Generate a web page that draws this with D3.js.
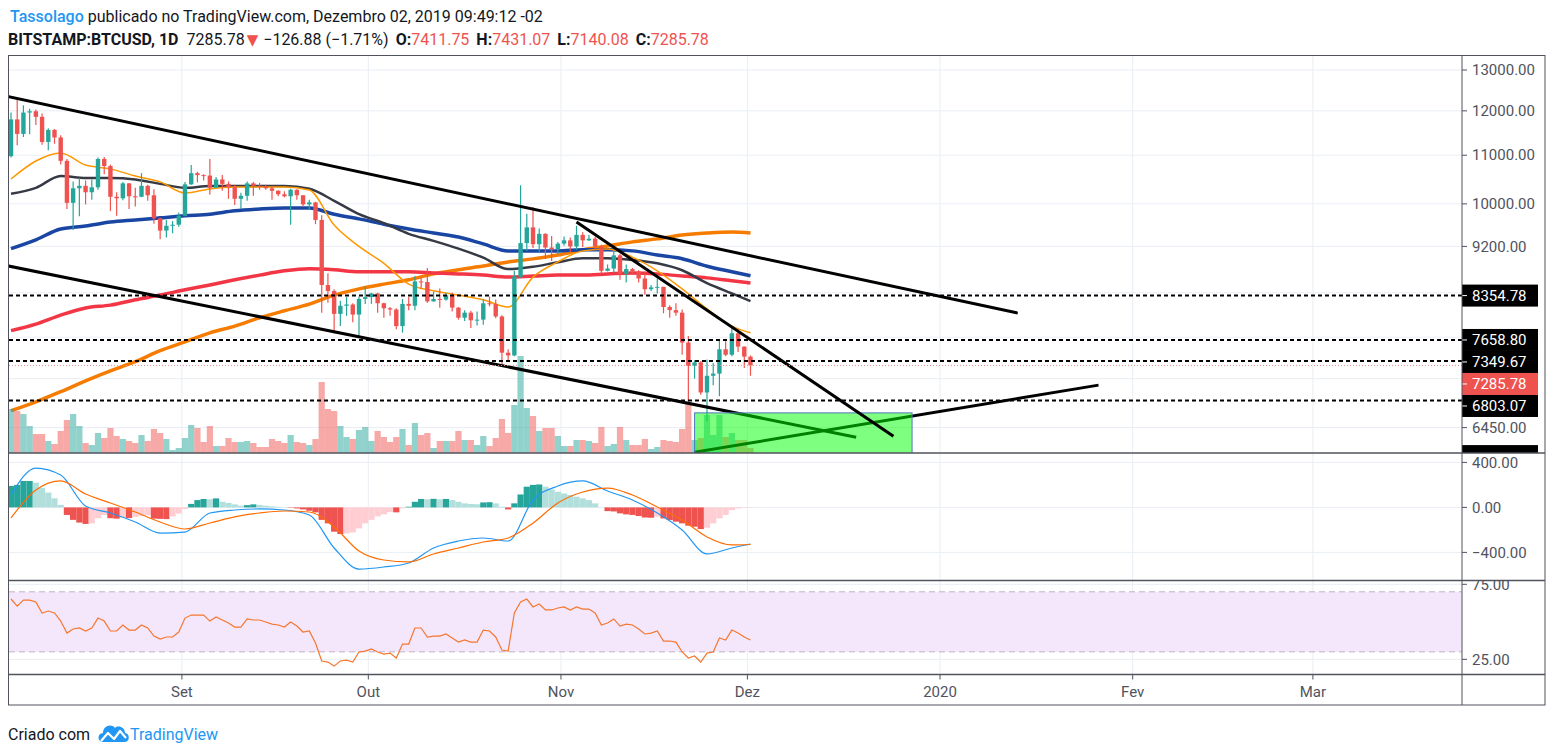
<!DOCTYPE html>
<html>
<head>
<meta charset="utf-8">
<script src="https://cdn.jsdelivr.net/npm/d3@7"></script>
<style>
  body { margin: 0; background: #ffffff; font-family: Roboto, "DejaVu Sans", sans-serif; }
  svg { display: block; }
</style>
</head>
<body>
<svg id="chart" width="1553" height="755"></svg>
<script>

// ---------------- data (BITSTAMP:BTCUSD daily) ----------------

const firstBar = "2019-08-05"

const open = [10980,11800,11470,11960,11990,11860,11290,11560,11390,10880,
  10020,10310,10360,10230,10330,10920,10770,10140,10110,10410,
  10150,10140,10360,10170,9720,9490,9580,9600,9770,10390,
  10620,10580,10570,10320,10490,10400,10330,10100,10160,10410,
  10360,10350,10310,10260,10190,10150,10280,10170,9990,10030,
  9690,8530,8430,8060,8190,8210,8050,8300,8330,8390,
  8230,8150,8130,7870,8220,8190,8590,8580,8260,8300,
  8290,8360,8160,8000,8080,7960,7970,8230,8220,8020,
  7470,7430,8670,9260,9550,9240,9430,9180,9150,9250,
  9310,9200,9410,9310,9340,9200,8770,8810,9040,8720,
  8800,8760,8640,8460,8490,8500,8170,8120,8080,7620,
  7280,7330,6910,7140,7170,7520,7440,7760,7560,7411.75]

const high = [11960,12320,12130,12050,12030,11940,11600,11580,11440,10920,
  10450,10520,10470,10490,10950,10960,10800,10230,10440,10420,
  10320,10620,10380,10290,9730,9690,9670,9830,10440,10790,
  10650,10600,10920,10540,10580,10450,10380,10220,10450,10440,
  10420,10380,10360,10270,10250,10300,10290,10170,10080,10040,
  9780,8730,8460,8270,8330,8230,8340,8510,8400,8400,
  8240,8170,8150,8300,8330,8680,8650,8820,8420,8470,
  8400,8400,8170,8120,8110,8100,8300,8340,8290,8040,
  7520,8770,10370,9810,9940,9530,9440,9390,9280,9380,
  9360,9580,9460,9410,9370,9230,8880,9120,9070,8880,
  8820,8780,8760,8530,8640,8500,8200,8230,8130,7720,
  7360,7350,7370,7320,7660,7640,7870,7820,7560,7431.07]

const low = [10950,11220,11400,11460,11670,11230,11110,11250,10800,9900,
  9500,9760,9990,10080,10280,10600,9860,9770,10070,9900,
  9950,10130,10060,9620,9330,9360,9440,9560,9760,10380,
  10430,10470,10180,10320,10260,10100,9980,9900,10060,10160,
  10280,10280,10080,10150,10130,9600,10080,9950,9880,9610,
  8080,8240,7760,7870,8030,7930,7720,8220,8220,8080,
  8000,8030,7820,7770,8120,8120,8470,8240,8260,8160,
  8270,8100,7970,7950,7840,7880,7890,8180,7990,7300,
  7360,7420,8650,9120,9170,9100,8980,8940,9060,9210,
  9100,9140,9190,9300,9140,8720,8760,8740,8620,8570,
  8700,8570,8370,8430,8390,8070,8000,8030,7440,6790,
  7100,6880,6530,7010,6860,7420,7420,7480,7250,7140.08]

const close = [11800,11470,11960,11990,11860,11290,11560,11390,10880,10020,
  10310,10360,10230,10330,10920,10770,10140,10110,10410,10150,
  10140,10360,10170,9720,9490,9580,9600,9770,10390,10620,
  10580,10570,10320,10490,10400,10330,10100,10160,10410,10360,
  10350,10310,10260,10190,10150,10280,10170,9990,10030,9690,
  8530,8430,8060,8190,8210,8050,8300,8330,8390,8230,
  8150,8130,7870,8220,8190,8590,8580,8260,8300,8290,
  8360,8160,8000,8080,7960,7970,8230,8220,8020,7470,
  7430,8670,9260,9550,9240,9430,9180,9150,9250,9310,
  9200,9410,9310,9340,9200,8770,8810,9040,8720,8800,
  8760,8640,8460,8490,8500,8170,8120,8080,7620,7280,
  7330,6910,7140,7170,7520,7440,7760,7560,7412.66,7285.78]

// volume in BTC
const volume = [17600,16800,15600,10800,7600,7600,4800,3600,8800,13200,
  15600,10800,4000,3200,8000,6000,10000,6800,5600,4800,
  4000,7200,4800,9600,8000,5600,1200,2000,6000,11200,
  10000,4400,10800,2800,2800,6000,4400,4400,4800,4000,
  2400,2400,5600,4800,4000,7200,4400,4000,3200,5600,
  28400,17600,16800,10800,6400,5600,9200,10400,4800,8800,
  6400,4400,6400,9600,3200,12000,7200,8000,2000,4800,
  4800,4800,8800,5200,5200,3200,6800,2800,6000,13600,
  8000,19200,38800,18000,14800,8800,10000,10000,6800,2800,
  2800,5200,5200,4800,4000,10400,2800,3600,10400,5200,
  3200,3200,5600,1600,2400,5200,4800,4400,9600,20000,
  5200,6000,15200,7200,15200,6400,8000,5200,5200,2000]

// moving averages, sampled every 4 bars
const maBars   = [0,4,8,12,16,20,24,28,32,36,40,44,48,52,56,60,64,68,72,76,80,84,88,92,96,100,104,108,112,116,119]
const maFast   = [10500,10877,11050,10790,10710,10560,10440,10215,10297,10335,10335,10335,10277,9593,9200,8900,8545,8433,8363,8286,8170,8663,8925,9120,9155,9010,8770,8465,8140,7870,7767]
const maBlack  = [10200,10320,10560,10520,10520,10490,10400,10320,10356,10356,10356,10356,10300,10060,9800,9630,9430,9300,9160,9000,8800,8840,8920,8990,8990,8960,8900,8780,8560,8390,8265]
const maBlue   = [9160,9320,9520,9575,9650,9690,9730,9770,9800,9865,9900,9920,9920,9800,9710,9610,9520,9445,9370,9245,9120,9120,9120,9140,9140,9120,9045,8980,8850,8755,8685]
const maRed    = [7800,7900,8040,8155,8200,8286,8363,8450,8530,8617,8697,8770,8805,8788,8753,8753,8753,8735,8718,8697,8663,8680,8697,8697,8718,8735,8718,8680,8650,8600,8563]
const maOrange = [6667,6785,6920,7070,7210,7340,7500,7630,7767,7870,8000,8110,8215,8363,8465,8545,8617,8718,8788,8852,8925,8978,9045,9138,9206,9282,9337,9407,9445,9465,9445]

// MACD (same sample bars) and histogram (every bar)
const macdLine   = [110,350,288,12,-50,-130,-228,-219,-50,-23,-14,-23,-68,-361,-548,-530,-494,-361,-299,-272,-299,66,190,235,146,66,-50,-201,-414,-361,-325]
const signalLine = [-94,155,235,119,39,-41,-130,-192,-139,-85,-50,-32,-41,-174,-388,-468,-485,-414,-361,-308,-272,-140,40,137,172,110,4,-112,-263,-334,-330]
const histogram = [191,200,235,235,220,173,132,81,22,-67,
  -111,-135,-147,-142,-96,-67,-96,-100,-90,-95,
  -85,-75,-70,-100,-102,-104,-80,-55,-15,31,
  65,75,72,80,50,40,27,15,20,27,
  22,15,9,5,2,-3,-9,-18,-30,-44,
  -111,-142,-216,-237,-231,-222,-187,-142,-111,-80,
  -62,-40,-44,-9,6,50,75,72,76,72,
  75,65,50,36,30,28,44,46,36,6,
  -18,36,115,184,200,204,184,160,139,124,
  110,95,80,65,36,1,-33,-36,-53,-62,
  -67,-77,-90,-92,-83,-98,-112,-127,-142,-163,
  -172,-193,-181,-142,-98,-68,-24,-9,-4,-3]

// RSI 14
const rsi = [65.2,60.5,64.5,64.5,63.2,55.9,57.2,55.9,50.5,42.5,
  45.2,45.9,43.9,45.9,52.5,50.5,43.9,43.9,47.9,44.5,
  44.5,47.9,45.9,40.5,38.5,39.9,39.9,43.2,52.5,54.5,
  54.5,54.5,50.5,53.2,51.2,49.2,46.5,46.5,51.9,51.2,
  51.2,49.9,48.5,47.9,46.5,49.9,47.2,43.2,43.9,35.9,
  23.9,23.2,20.5,23.9,24.5,23.2,29.9,30.5,31.9,29.9,
  28.5,29.2,25.9,35.2,35.2,45.9,45.9,39.9,40.5,40.5,
  41.9,39.2,36.5,37.9,36.5,36.5,44.5,43.9,39.9,31.2,
  30.5,55.9,63.2,65.2,59.9,61.9,57.9,57.9,59.2,59.9,
  57.9,59.9,58.5,58.5,55.9,47.9,49.2,51.9,47.2,48.5,
  47.9,45.2,41.9,42.5,43.9,37.2,37.2,36.5,29.9,25.9,
  27.2,23.2,29.2,29.9,39.2,37.9,44.5,42.5,39.9,37.9]

// horizontal levels drawn on the chart
const hLevels = [8354.78, 7658.80, 7349.67, 6803.07]

// trend lines [date, price]
const channelTop    = [["2019-08-04", 12360], ["2020-01-14", 8073]]
const channelBottom = [["2019-08-04", 8866], ["2019-12-19", 6330]]
const steepLine     = [["2019-11-04", 9649], ["2019-12-25", 6343]]
const risingLine    = [["2019-11-23", 6147], ["2020-01-27", 7010]]

// green zone
const zoneStart = "2019-11-23", zoneEnd = "2019-12-28"
const zoneHigh = 6639, zoneLow = 6100

// axes
const priceTicks = [13000, 12000, 11000, 10000, 9200, 8400, 7700, 7100, 6450]
const macdTicks = [400, 0, -400]
const rsiTicks = [75, 25]
const monthTicks = ["2019-09-01","2019-10-01","2019-11-01","2019-12-01","2020-01-01","2020-02-01","2020-03-01"]
const monthLabels = ["Set","Out","Nov","Dez","2020","Fev","Mar"]

// ---------------- layout ----------------

const left = 9, right = 1462, axisRight = 1545
const priceTop = 55, priceBottom = 453, macdBottom = 580.5, rsiBottom = 674.5, timeBottom = 705

const textColor = "#131722", axisText = "#50535e", gridColor = "#e9eef4", frameColor = "#50535e"
const upColor = "#26a69a", downColor = "#ef5350"

const parse = d3.utcParse("%Y-%m-%d")
const dates = close.map((c, i) => d3.utcDay.offset(parse(firstBar), i))
const n = close.length

const x = d3.scaleUtc()
  .domain([dates[0], dates[n - 1]])
  .range([11, 750.5])
const barW = x(dates[1]) - x(dates[0])

const y = d3.scaleLog().domain([6137, 13388]).range([priceBottom, priceTop])
const yVol = d3.scaleLinear().domain([0, 40000]).range([priceBottom, priceBottom - 100])
const yMacd = d3.scaleLinear().domain([-650, 481]).range([macdBottom, priceBottom + 0.3])
const yRsi = d3.scaleLinear().domain([14.9, 77.2]).range([rsiBottom, macdBottom + 0.5])

console.log("bar width", barW)

const svg = d3.select("#chart")
const fmt = d3.format(".2f")

const defs = svg.append("defs")
function addClip(id, x0, y0, w, h) {
  defs.append("clipPath").attr("id", id)
    .append("rect").attr("x", x0).attr("y", y0).attr("width", w).attr("height", h)
}
addClip("clipPrice", left, priceTop, right - left, priceBottom - priceTop)
addClip("clipMacd", left, priceBottom, right - left, macdBottom - priceBottom)
addClip("clipRsi", left, macdBottom, right - left, rsiBottom - macdBottom)
addClip("clipPriceAxis", right, priceTop, axisRight - right, priceBottom - priceTop)
addClip("clipRsiAxis", right, macdBottom, axisRight - right, rsiBottom - macdBottom)

// ---------------- header ----------------

const head1 = svg.append("text")
  .attr("x", 10).attr("y", 22)
  .attr("font-size", 16).attr("fill", textColor)
head1.append("tspan").attr("fill", "#2196f3").attr("font-weight", 500).text("Tassolago")
head1.append("tspan").text(" publicado no TradingView.com, Dezembro 02, 2019 09:49:12 -02")

const last = n - 1
const change = close[last] - close[last - 1]
const head2 = [
  { t: "BITSTAMP:BTCUSD, 1D", bold: true, c: textColor, dx: 0 },
  { t: fmt(close[last]), c: textColor, dx: 8 },
  { t: "\u25BC", c: downColor, small: true, dx: 2 },
  { t: fmt(change) + " (" + fmt(change / close[last - 1] * 100) + "%)", c: textColor, dx: 5 },
  { t: "O:", bold: true, c: textColor, dx: 7 },
  { t: fmt(open[last]), c: downColor, dx: 0 },
  { t: "H:", bold: true, c: textColor, dx: 7 },
  { t: fmt(high[last]), c: downColor, dx: 0 },
  { t: "L:", bold: true, c: textColor, dx: 7 },
  { t: fmt(low[last]), c: downColor, dx: 0 },
  { t: "C:", bold: true, c: textColor, dx: 7 },
  { t: fmt(close[last]), c: downColor, dx: 0 }
]
svg.append("text")
  .attr("x", 8).attr("y", 45)
  .attr("font-size", 16)
  .selectAll("tspan").data(head2).enter().append("tspan")
  .attr("dx", d => d.dx)
  .attr("font-weight", d => d.bold ? 700 : 400)
  .attr("font-size", d => d.small ? 15 : 16)
  .attr("fill", d => d.c)
  .text(d => d.t)

// ---------------- grid ----------------

const grid = svg.append("g")
grid.selectAll(".vg").data(monthTicks).enter().append("line")
  .attr("x1", d => x(parse(d)) + barW / 2).attr("x2", d => x(parse(d)) + barW / 2)
  .attr("y1", priceTop).attr("y2", rsiBottom)
  .attr("stroke", gridColor).attr("stroke-width", 1)
grid.selectAll(".pg").data(priceTicks).enter().append("line")
  .attr("x1", left).attr("x2", right)
  .attr("y1", d => y(d)).attr("y2", d => y(d))
  .attr("stroke", gridColor)
grid.selectAll(".mg").data(macdTicks).enter().append("line")
  .attr("x1", left).attr("x2", right)
  .attr("y1", d => yMacd(d)).attr("y2", d => yMacd(d))
  .attr("stroke", gridColor)
grid.selectAll(".rg").data(rsiTicks).enter().append("line")
  .attr("x1", left).attr("x2", right)
  .attr("y1", d => yRsi(d)).attr("y2", d => yRsi(d))
  .attr("stroke", gridColor)

// ---------------- price pane ----------------

const price = svg.append("g").attr("clip-path", "url(#clipPrice)")

const maLine = d3.line()
  .x((d, i) => x(dates[maBars[i]]))
  .y(d => y(d))
  .curve(d3.curveMonotoneX)

const maSeries = [
  { v: maOrange, c: "#f57c00", w: 3.5 },
  { v: maRed, c: "#f23645", w: 3.5 },
  { v: maBlue, c: "#1a46a3", w: 3.5 },
  { v: maBlack, c: "#363a45", w: 2.5 },
  { v: maFast, c: "#ff9800", w: 1.5 }
]
maSeries.forEach(function (m) {
  price.append("path")
    .datum(m.v)
    .attr("d", maLine)
    .attr("fill", "none")
    .attr("stroke", m.c)
    .attr("stroke-width", m.w)
    .attr("stroke-linejoin", "round")
})

// volume
price.append("g").selectAll("rect").data(volume).enter().append("rect")
  .attr("x", (d, i) => x(dates[i]) - barW / 2)
  .attr("width", barW)
  .attr("y", d => yVol(d))
  .attr("height", d => priceBottom - yVol(d))
  .attr("fill", (d, i) => close[i] >= open[i] ? "rgba(38,166,154,0.5)" : "rgba(239,83,80,0.5)")

// candles
const candles = price.append("g").selectAll("g").data(close).enter().append("g")
candles.append("line")
  .attr("x1", (d, i) => x(dates[i])).attr("x2", (d, i) => x(dates[i]))
  .attr("y1", (d, i) => y(high[i])).attr("y2", (d, i) => y(low[i]))
  .attr("stroke", (d, i) => close[i] >= open[i] ? upColor : downColor)
  .attr("stroke-width", 1.2)
candles.append("rect")
  .attr("x", (d, i) => x(dates[i]) - 2.2)
  .attr("width", 4.4)
  .attr("y", (d, i) => y(Math.max(open[i], close[i])))
  .attr("height", (d, i) => Math.max(1, y(Math.min(open[i], close[i])) - y(Math.max(open[i], close[i]))))
  .attr("fill", (d, i) => close[i] >= open[i] ? upColor : downColor)

function trend(pts) {
  return d3.line().x(p => x(parse(p[0]))).y(p => y(p[1]))(pts)
}

// lines under the green zone
;[channelBottom, risingLine].forEach(function (t) {
  price.append("path").attr("d", trend(t))
    .attr("fill", "none").attr("stroke", "#000").attr("stroke-width", 3)
})

price.append("rect")
  .attr("x", x(parse(zoneStart)))
  .attr("width", x(parse(zoneEnd)) - x(parse(zoneStart)))
  .attr("y", y(zoneHigh))
  .attr("height", y(zoneLow) - y(zoneHigh))
  .attr("fill", "rgba(0,255,0,0.5)")
  .attr("stroke", "#4f78bd").attr("stroke-width", 1)

;[channelTop, steepLine].forEach(function (t) {
  price.append("path").attr("d", trend(t))
    .attr("fill", "none").attr("stroke", "#000").attr("stroke-width", 3)
})

// horizontal levels
price.selectAll(".lvl").data(hLevels).enter().append("line")
  .attr("x1", left).attr("x2", right)
  .attr("y1", d => y(d)).attr("y2", d => y(d))
  .attr("stroke", "#000").attr("stroke-width", 2)
  .attr("stroke-dasharray", "4 3")

// last price line
price.append("line")
  .attr("x1", left).attr("x2", right)
  .attr("y1", y(close[last])).attr("y2", y(close[last]))
  .attr("stroke", "#f28b89").attr("stroke-width", 1)
  .attr("stroke-dasharray", "1 2")

// ---------------- MACD pane ----------------

const macdG = svg.append("g").attr("clip-path", "url(#clipMacd)")

function histColor(i) {
  var v = histogram[i]
  var p = i > 0 ? histogram[i - 1] : v
  if (v >= 0) return v >= p ? "#26a69a" : "#b2dfdb"
  return v < p ? "#ef5350" : "#ffcdd2"
}

macdG.append("g").selectAll("rect").data(histogram).enter().append("rect")
  .attr("x", (d, i) => x(dates[i]) - barW / 2)
  .attr("width", barW)
  .attr("y", d => Math.min(yMacd(d), yMacd(0)))
  .attr("height", d => Math.abs(yMacd(d) - yMacd(0)))
  .attr("fill", (d, i) => histColor(i))

const macdPath = d3.line()
  .x((d, i) => x(dates[maBars[i]]))
  .y(d => yMacd(d))
  .curve(d3.curveMonotoneX)

macdG.append("path").datum(macdLine).attr("d", macdPath)
  .attr("fill", "none").attr("stroke", "#2196f3").attr("stroke-width", 1.2)
macdG.append("path").datum(signalLine).attr("d", macdPath)
  .attr("fill", "none").attr("stroke", "#ff6d00").attr("stroke-width", 1.2)

// ---------------- RSI pane ----------------

const rsiG = svg.append("g").attr("clip-path", "url(#clipRsi)")

rsiG.append("rect")
  .attr("x", left).attr("width", right - left)
  .attr("y", yRsi(70)).attr("height", yRsi(30) - yRsi(70))
  .attr("fill", "#f4e7fb")
rsiG.selectAll(".band").data([70, 30]).enter().append("line")
  .attr("x1", left).attr("x2", right)
  .attr("y1", d => yRsi(d)).attr("y2", d => yRsi(d))
  .attr("stroke", "#c2afc6").attr("stroke-width", 1)
  .attr("stroke-dasharray", "6 4")

rsiG.append("path").datum(rsi)
  .attr("d", d3.line().x((d, i) => x(dates[i])).y(d => yRsi(d)))
  .attr("fill", "none").attr("stroke", "#f5772f").attr("stroke-width", 1.2)

// ---------------- right axis ----------------

// labels for drawn levels, pushed apart so they do not overlap
var boxes = hLevels.map(v => ({ v: v, bg: "#000", label: true }))
boxes.push({ v: close[last], bg: "#ef5350", label: true })
boxes.push({ v: zoneLow, bg: "#000", label: false })   // only its top edge shows above the pane border
boxes.forEach(b => { b.y = y(b.v) })
boxes.sort((a, b) => a.y - b.y)
for (let i = 1; i < boxes.length; i++) {
  if (boxes[i].y < boxes[i - 1].y + 22) boxes[i].y = boxes[i - 1].y + 22
}

const axisG = svg.append("g").attr("clip-path", "url(#clipPriceAxis)")

var shownTicks = priceTicks.filter(t => boxes.every(b => Math.abs(b.y - y(t)) > 17))
axisG.selectAll(".pt").data(priceTicks).enter().append("line")
  .attr("x1", right).attr("x2", right + 5)
  .attr("y1", d => y(d)).attr("y2", d => y(d))
  .attr("stroke", axisText)
axisG.selectAll(".pl").data(shownTicks).enter().append("text")
  .attr("x", right + 10).attr("y", d => y(d))
  .attr("dy", "0.35em")
  .attr("font-size", 15).attr("fill", axisText)
  .text(d => fmt(d))

const boxG = axisG.selectAll(".box").data(boxes).enter().append("g")
boxG.append("rect")
  .attr("x", right).attr("width", 76)
  .attr("y", d => d.y - 11).attr("height", 22)
  .attr("fill", d => d.bg)
boxG.append("line")
  .attr("x1", right).attr("x2", right + 5)
  .attr("y1", d => d.y).attr("y2", d => d.y)
  .attr("stroke", "#fff")
boxG.filter(d => d.label).append("text")
  .attr("x", right + 10).attr("y", d => d.y)
  .attr("dy", "0.36em")
  .attr("font-size", 15).attr("fill", "#fff")
  .text(d => fmt(d.v))

svg.append("g").selectAll("line").data(macdTicks).enter().append("line")
  .attr("x1", right).attr("x2", right + 5)
  .attr("y1", d => yMacd(d)).attr("y2", d => yMacd(d))
  .attr("stroke", axisText)
svg.append("g").selectAll("text").data(macdTicks).enter().append("text")
  .attr("x", right + 10).attr("y", d => yMacd(d))
  .attr("dy", "0.35em")
  .attr("font-size", 15).attr("fill", axisText)
  .text(d => fmt(d))

const rsiAxis = svg.append("g").attr("clip-path", "url(#clipRsiAxis)")
rsiAxis.selectAll("line").data(rsiTicks).enter().append("line")
  .attr("x1", right).attr("x2", right + 5)
  .attr("y1", d => yRsi(d)).attr("y2", d => yRsi(d))
  .attr("stroke", axisText)
rsiAxis.selectAll("text").data(rsiTicks).enter().append("text")
  .attr("x", right + 10).attr("y", d => yRsi(d))
  .attr("dy", "0.35em")
  .attr("font-size", 15).attr("fill", axisText)
  .text(d => fmt(d))

// ---------------- time axis ----------------

const timeG = svg.append("g")
timeG.selectAll("line").data(monthTicks).enter().append("line")
  .attr("x1", d => x(parse(d)) + barW / 2).attr("x2", d => x(parse(d)) + barW / 2)
  .attr("y1", rsiBottom).attr("y2", rsiBottom + 5)
  .attr("stroke", axisText)
timeG.selectAll("text").data(monthTicks).enter().append("text")
  .attr("x", d => x(parse(d)) + barW / 2).attr("y", 697)
  .attr("text-anchor", "middle")
  .attr("font-size", 15).attr("fill", axisText)
  .text((d, i) => monthLabels[i])

// ---------------- frame ----------------

const frame = svg.append("g").attr("stroke", frameColor).attr("fill", "none")
frame.append("rect")
  .attr("x", left - 0.5).attr("y", priceTop + 0.5)
  .attr("width", axisRight - left + 0.5).attr("height", timeBottom - priceTop - 0.5)
frame.append("line").attr("x1", right).attr("x2", right).attr("y1", priceTop).attr("y2", timeBottom)
;[priceBottom, macdBottom, rsiBottom].forEach(function (yy) {
  frame.append("line").attr("x1", left - 0.5).attr("x2", axisRight).attr("y1", yy).attr("y2", yy)
    .attr("stroke-width", 1.5)
})

// ---------------- footer ----------------

svg.append("text").attr("x", 8).attr("y", 740)
  .attr("font-size", 16).attr("fill", textColor)
  .text("Criado com")

const logo = svg.append("g").attr("transform", "translate(97,722)")
logo.append("path")
  .attr("d", "M6,20 C0,20 0,11 6,11 C6,4 14,1 18,6 C21,3 28,5 28,11 C33,11 33,20 28,20 Z")
  .attr("fill", "#2196f3")
logo.append("polyline")
  .attr("points", "4,19 11,11 17,17 23,9 29,16")
  .attr("fill", "none").attr("stroke", "#fff").attr("stroke-width", 2.2)
  .attr("stroke-linejoin", "round")

svg.append("text").attr("x", 130).attr("y", 740)
  .attr("font-size", 16).attr("fill", "#2196f3")
  .text("TradingView")

</script>
</body>
</html>
